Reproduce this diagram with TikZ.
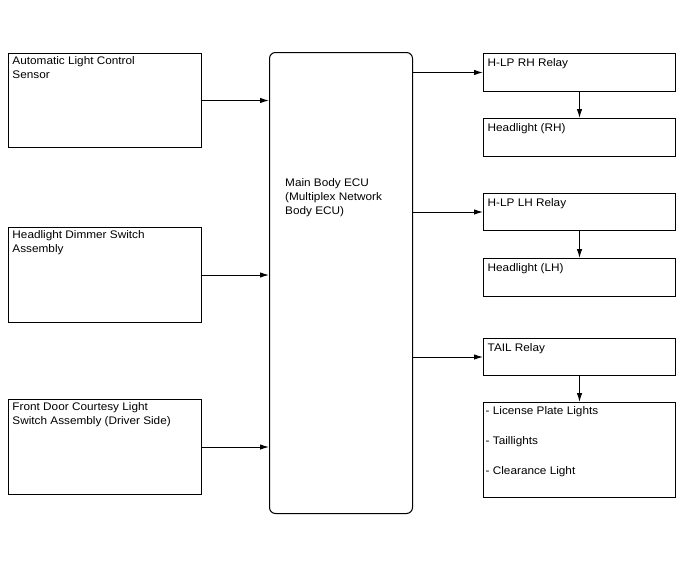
\documentclass[tikz,border=0pt]{standalone}
\usepackage{fontspec}
\setmainfont[FakeStretch=1.07]{Liberation Sans}
\usetikzlibrary{arrows.meta}
\begin{document}
\begin{tikzpicture}[x=1pt,y=-1pt,
  every node/.style={font=\fontsize{11}{14}\selectfont},
  box/.style={draw,line width=1pt,anchor=north west,inner sep=0pt,minimum width=193pt},
  txtl/.style={anchor=north west,inner xsep=4.3pt,inner ysep=3.6pt,align=left},
  txtr/.style={anchor=north west,inner xsep=4.5pt,inner ysep=5.4pt,align=left},
  conn/.style={line width=1pt,-{Latex[length=9pt,width=5.5pt]}}]
\useasboundingbox (0,0) rectangle (688,560);
% left boxes
\node[box,minimum height=94pt,label={[txtl]north west:Automatic Light Control\\Sensor}] (als) at (8,53) {};
\node[box,minimum height=95pt,label={[txtl]north west:Headlight Dimmer Switch\\Assembly}] (dim) at (8,227) {};
\node[box,minimum height=95pt,label={[txtl]north west:Front Door Courtesy Light\\Switch Assembly (Driver Side)}] (door) at (8,399) {};
% ECU
\node[draw,line width=1pt,rounded corners=6pt,anchor=north west,inner sep=0pt,minimum width=143pt,minimum height=461pt] (ecu) at (269,52) {};
\node[anchor=north west,align=left,inner sep=0pt] (ecut) at (285,178) {Main Body ECU\\(Multiplex Network\\Body ECU)};
% right boxes
\node[box,minimum width=192pt,minimum height=38pt,label={[txtr]north west:H-LP RH Relay}] (rhr) at (483,53) {};
\node[box,minimum width=192pt,minimum height=38pt,label={[txtr]north west:Headlight (RH)}] (rhl) at (483,118) {};
\node[box,minimum width=192pt,minimum height=37pt,label={[txtr]north west:H-LP LH Relay}] (lhr) at (483,193) {};
\node[box,minimum width=192pt,minimum height=38pt,label={[txtr]north west:Headlight (LH)}] (lhl) at (483,258) {};
\node[box,minimum width=192pt,minimum height=37pt,label={[txtr]north west:TAIL Relay}] (tr) at (483,338) {};
\node[box,minimum width=192pt,minimum height=95pt,label={[txtl,inner ysep=4.3pt,inner xsep=2.5pt]north west:- License Plate Lights\\[16pt]- Taillights\\[16pt]- Clearance Light}] (tl) at (483,402) {};
% connectors
\draw[conn] (als.east) -- (ecu.west |- als.east);
\draw[conn] (dim.east) -- (ecu.west |- dim.east);
\draw[conn] (door.east) -- (ecu.west |- door.east);
\draw[conn] (ecu.east |- rhr.west) -- (rhr.west);
\draw[conn] (ecu.east |- lhr.west) -- (lhr.west);
\draw[conn] (ecu.east |- tr.west) -- (tr.west);
\draw[conn] (rhr.south) -- (rhl.north);
\draw[conn] (lhr.south) -- (lhl.north);
\draw[conn] (tr.south) -- (tl.north);
\end{tikzpicture}
\end{document}
